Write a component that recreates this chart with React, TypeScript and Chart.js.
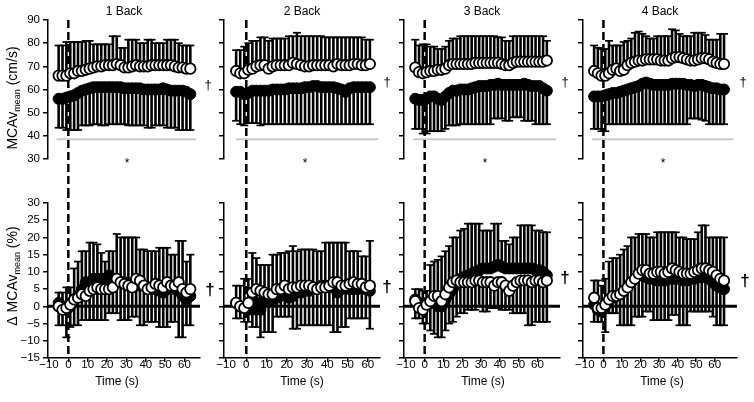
import React, { useEffect, useRef } from 'react';
import { Chart, registerables } from 'chart.js';

Chart.register(...registerables);

const FONT = '"Liberation Sans", Arial, Helvetica, sans-serif';

// ---------- labels / ticks ----------
const PANEL_TITLES = ['1 Back', '2 Back', '3 Back', '4 Back'];
const X_TICKS = [-10, 0, 10, 20, 30, 40, 50, 60];
const TOP_Y_TICKS = [30, 40, 50, 60, 70, 80, 90];
const BOTTOM_Y_TICKS = [-15, -10, -5, 0, 5, 10, 15, 20, 25, 30];
const TOP_Y_RANGE = [30, 90];
const BOTTOM_Y_RANGE = [-15, 30];
const X_RANGES = [[-10.5, 68], [-11, 66], [-11, 72], [-11, 72]];
const SIG_LEVEL = 38.5;
const SIG_SPANS = [[-6, 66], [-5, 65], [-6, 70], [-6, 70]];

// ---------- time (s) ----------
const TIME_1 = [-5, -3, -1, 1, 3, 5, 7, 9, 11, 13, 15, 17, 19, 21, 23, 25, 27, 29, 31, 33, 35, 37, 39, 41, 43, 45, 47, 49, 51, 53, 55, 57, 59, 61, 63];
const TIME_2 = [-5, -3, -1, 1, 3, 5, 7, 9, 11, 13, 15, 17, 19, 21, 23, 25, 27, 29, 31, 33, 35, 37, 39, 41, 43, 45, 47, 49, 51, 53, 55, 57, 59, 61];
const TIME_3 = [-5, -3, -1, 1, 3, 5, 7, 9, 11, 13, 15, 17, 19, 21, 23, 25, 27, 29, 31, 33, 35, 37, 39, 41, 43, 45, 47, 49, 51, 53, 55, 57, 59, 61, 63, 65];
const TIME_4 = [-5, -3, -1, 1, 3, 5, 7, 9, 11, 13, 15, 17, 19, 21, 23, 25, 27, 29, 31, 33, 35, 37, 39, 41, 43, 45, 47, 49, 51, 53, 55, 57, 59, 61, 63, 65];

// ---------- 1 Back ----------
const T1_OPEN_MEAN = [66, 66, 66, 67, 67, 68, 68, 68.5, 69, 69.5, 70, 70, 70.5, 70.5, 70.5, 71, 70.5, 69.5, 69.5, 70, 70.5, 70, 70, 70, 70.5, 70.5, 70.5, 70.5, 70.5, 70.5, 70, 69.5, 69.5, 69, 69];
const T1_OPEN_SD = [13, 13, 14.5, 13.5, 13.5, 12.5, 12.5, 12.5, 12, 10, 9.5, 9.5, 9, 9, 12.5, 12, 7.5, 8.5, 12, 11.5, 11, 10, 10, 11.5, 11, 9.5, 9.5, 9.5, 11, 11, 11.5, 10.5, 9.5, 10, 10];
const T1_FILLED_MEAN = [56, 56, 56.5, 57, 57.5, 58.5, 59.5, 60, 60.5, 61, 61, 61, 61, 61, 61, 61, 61, 60.5, 60.5, 60.5, 60.5, 60.5, 60, 60, 60, 60, 60, 60.5, 60, 59.5, 59.5, 59.5, 59.5, 59, 58];
const T1_FILLED_SD = [12.5, 12.5, 14, 14.5, 15, 16, 15, 15.5, 16, 16, 16, 16.5, 16.5, 16, 16, 16, 16, 15.5, 16, 16, 16, 16, 15.5, 16.5, 16.5, 15.5, 15.5, 16, 16.5, 16, 16, 17, 17, 16.5, 15.5];
const B1_FILLED_MEAN = [1, 0, -1, 0, 2, 3, 5, 7, 7, 8, 8, 8, 8, 9, 8, 7, 7, 7, 6.5, 6, 6, 6, 6, 5.5, 5, 5, 4.5, 4, 5, 5.5, 5, 4.5, 3, 2, 3];
const B1_FILLED_SD = [3, 4, 6.5, 5.5, 9, 10, 11, 9, 11.5, 10.5, 10, 7.5, 5, 7, 8, 14, 13, 13, 13.5, 14, 14, 10.5, 10.5, 10.5, 11, 11, 12.5, 13, 12, 9.5, 10, 14.5, 16, 11, 12];
const B1_OPEN_MEAN = [0, -1, -0.5, 0.5, 2, 2.5, 3.5, 3, 4.5, 5, 5.5, 5, 5, 5, 5.5, 8, 7, 6.5, 6, 5.5, 8, 7.5, 6, 5, 5.5, 6.5, 6, 5.5, 7, 6, 6, 7, 5, 4, 5];
const B1_OPEN_SD = [5.5, 4.5, 8.5, 6.5, 7.5, 8, 7.5, 7, 8.5, 9, 9.5, 9, 9, 7, 7.5, 10, 11, 10.5, 10, 8.5, 11, 13, 11.5, 9.5, 10, 11, 12, 11.5, 13, 10.5, 10.5, 16, 14, 9.5, 10.5];

// ---------- 2 Back ----------
const T2_OPEN_MEAN = [68, 67, 67, 68.5, 69, 70, 70.5, 70.5, 69, 70, 70.5, 70.5, 70.5, 70.5, 71.5, 71, 70.5, 70, 70, 70.5, 70.5, 70.5, 70.5, 70.5, 70, 71, 70.5, 70.5, 70.5, 71, 71, 70.5, 70.5, 71];
const T2_OPEN_SD = [9, 10, 11.5, 11.5, 12, 11, 12, 12, 12, 12, 11.5, 11.5, 11.5, 12.5, 11.5, 13.5, 12.5, 13, 13, 12.5, 12.5, 12.5, 12, 12, 12.5, 11.5, 12, 12, 12, 11.5, 11.5, 12, 11, 10.5];
const T2_FILLED_MEAN = [59, 59, 58, 58.5, 59.5, 59.5, 59.5, 59.5, 59.5, 60, 60, 60, 60, 60.5, 60.5, 60.5, 60.5, 61, 61, 61.5, 61.5, 61, 61, 61, 61, 60.5, 60, 59, 60.5, 61, 61, 61, 61, 61];
const T2_FILLED_SD = [12.5, 14, 13.5, 13, 14, 14, 15, 14.5, 14.5, 15, 15, 15, 15, 15.5, 15.5, 15.5, 15.5, 16, 16, 16.5, 16.5, 16, 16, 16, 16, 15.5, 15, 14, 15.5, 16, 16, 16, 16, 16];
const B2_FILLED_MEAN = [1, 0, -0.5, 0, -1, 1, -1, 2, 3, 2, 2.5, 3, 3.5, 2.5, 3, 4, 4, 4.5, 4.5, 5, 5.5, 6, 6, 5.5, 6, 4, 5, 5.5, 5, 5, 5, 5.5, 5, 4.5];
const B2_FILLED_SD = [5, 6, 8.5, 8, 16.5, 13, 13, 10, 9, 13, 12.5, 12.5, 12, 13.5, 14.5, 12, 12.5, 12, 12, 11.5, 10.5, 10, 12.5, 13, 12.5, 14.5, 13.5, 13, 11, 11, 11, 9, 9.5, 14.5];
const B2_OPEN_MEAN = [1, 0, -0.5, 1, 4, 5, 4.5, 4, 3.5, 3.5, 5, 5, 6, 5, 5.5, 5.5, 6, 6, 6, 5.5, 5, 5.5, 5.5, 6, 7, 7, 6, 6, 6.5, 7, 6.5, 6.5, 5.5, 6];
const B2_OPEN_SD = [4.5, 3.5, 4, 5.5, 10, 11, 13.5, 11.5, 11, 11, 8, 8, 9, 8, 12, 12, 11.5, 11.5, 11.5, 11, 10.5, 11, 11, 11.5, 14.5, 14.5, 12, 12, 10, 10.5, 10, 10, 9, 12.5];

// ---------- 3 Back ----------
const T3_OPEN_MEAN = [69.5, 67.5, 67, 67.5, 68, 68, 68.5, 68.5, 69, 70.5, 71, 71, 71, 71, 71, 71, 71.5, 71.5, 71.5, 71.5, 71.5, 71.5, 71.5, 71, 70.5, 70.5, 71.5, 72, 72, 72, 72, 72, 72, 72, 72, 72.5];
const T3_OPEN_SD = [12, 11.5, 12.5, 12, 10.5, 10.5, 9, 9, 9.5, 10.5, 11, 11, 12, 12, 12, 12, 11.5, 11.5, 11.5, 11.5, 11.5, 11.5, 11, 11.5, 10.5, 10.5, 11.5, 11, 11, 11, 11, 11, 11, 11, 11, 8.5];
const T3_FILLED_MEAN = [56, 55.5, 55.5, 56, 57, 57, 56, 55.5, 57, 58.5, 59.5, 59.5, 60, 60, 60, 60.5, 61, 61.5, 61.5, 61.5, 62, 62, 62.5, 62, 62, 62, 62, 62, 62, 62.5, 62, 61.5, 61.5, 61.5, 60.5, 59.5];
const T3_FILLED_SD = [13, 12.5, 14.5, 15, 15, 15, 14, 13.5, 14, 14, 15, 15, 15, 15, 15, 15.5, 16, 16.5, 16.5, 16.5, 17, 14.5, 15, 14.5, 15.5, 15.5, 14, 14, 14, 16, 15.5, 15, 16.5, 16.5, 15.5, 14.5];
const B3_FILLED_MEAN = [2, 1, 0, 1, 1, 1, 0, 0, 2, 3.5, 5, 6.5, 8, 8.5, 9, 9.5, 10, 10.5, 11, 11, 11, 11.5, 12, 11.5, 11, 11, 11, 11, 11, 11, 11, 11, 10.5, 10.5, 10, 9];
const B3_FILLED_SD = [3, 4, 4.5, 3.5, 11, 12, 13.5, 14.5, 14, 14, 15, 13.5, 14, 14, 15, 14.5, 14, 13.5, 11, 11, 11, 12.5, 12, 7.5, 8, 7, 9, 9, 12.5, 12.5, 12.5, 12.5, 11.5, 11.5, 11.5, 12.5];
const B3_OPEN_MEAN = [1.5, -0.5, -1, 0.5, 1.5, 3, 3, 1.5, 3.5, 5.5, 7, 7.5, 7, 7, 7, 7, 7.5, 7.5, 7, 7, 7, 6, 7, 7, 6, 4.5, 6, 7, 7.5, 7.5, 7.5, 7, 7.5, 7.5, 7, 7.5];
const B3_OPEN_SD = [5, 3, 4, 5.5, 8.5, 11, 12, 10.5, 10.5, 10.5, 11.5, 10.5, 9, 9, 8, 8, 8.5, 7.5, 8.5, 8.5, 7.5, 6.5, 7.5, 8, 7, 5.5, 8, 9, 9.5, 9.5, 13, 12.5, 12, 12, 11.5, 12];

// ---------- 4 Back ----------
const T4_OPEN_MEAN = [68, 67, 66, 66, 67, 68.5, 69, 68, 68.5, 70.5, 71.5, 72, 72.5, 72.5, 73, 73, 73, 73, 72.5, 72.5, 72.5, 73.5, 74, 74, 73.5, 73, 72.5, 72.5, 73, 73.5, 73.5, 73, 72, 71.5, 71, 71];
const T4_OPEN_SD = [11, 11, 11.5, 11.5, 14, 10.5, 10, 11, 12, 10.5, 10.5, 12.5, 12.5, 11.5, 10, 9, 9, 10, 10.5, 10.5, 10.5, 12.5, 11.5, 10, 9.5, 10, 10.5, 12, 11.5, 11, 10, 8.5, 9.5, 10, 13, 13];
const T4_FILLED_MEAN = [57, 57, 57, 57.5, 58, 58.5, 58.5, 59, 59.5, 60, 60.5, 61, 61.5, 62.5, 63, 62.5, 62, 62, 62, 62, 62, 62.5, 62.5, 62.5, 62.5, 62, 62, 61.5, 62, 62, 61.5, 61, 60.5, 60.5, 60, 60];
const T4_FILLED_SD = [14, 14, 15, 15.5, 13, 13.5, 13.5, 14, 14.5, 15, 15.5, 16, 16.5, 17.5, 18, 17.5, 17, 17, 17, 17, 17, 17.5, 17.5, 17.5, 17.5, 17, 14.5, 14, 14.5, 15, 15, 16, 15.5, 15.5, 15, 15];
const B4_FILLED_MEAN = [0.5, -1, -1.5, 0, 1.5, 2.5, 3, 3.5, 4.5, 5.5, 7, 8, 9, 9.5, 8.5, 8, 8, 7.5, 7.5, 7.5, 8, 8, 8, 8, 7.5, 7.5, 8, 8, 8.5, 8.5, 8.5, 8, 7, 6, 5.5, 5];
const B4_FILLED_SD = [7, 8.5, 7.5, 8, 11.5, 11.5, 11, 11.5, 12, 12, 13, 12, 12, 11.5, 12.5, 12, 12, 14, 14, 14, 13.5, 13.5, 13.5, 12, 12.5, 12, 11.5, 11.5, 13, 15, 15, 12, 13, 14, 14.5, 15];
const B4_OPEN_MEAN = [2.5, -0.5, -0.5, 0.5, 2, 3, 3, 3.5, 4.5, 5.5, 7, 8, 9.5, 10.5, 10.5, 9.5, 9.5, 10, 10, 9.5, 10, 11, 10.5, 10, 9.5, 9.5, 9.5, 10, 10.5, 11, 11, 10.5, 10, 9, 8, 7.5];
const B4_OPEN_SD = [7, 4, 4, 8, 4, 5, 5, 9, 10, 11, 12.5, 11, 12.5, 13.5, 12, 11, 13.5, 14, 14, 13.5, 14, 13.5, 13, 15.5, 15, 15, 11, 11.5, 12, 12.5, 12.5, 12, 13, 14.5, 13.5, 13];

type Series = { mean: number[]; sd: number[] };
type Part = { filled: Series; open: Series };
type PanelData = { time: number[]; top: Part; bottom: Part };

const PANELS: PanelData[] = [
  {
    time: TIME_1,
    top: { filled: { mean: T1_FILLED_MEAN, sd: T1_FILLED_SD }, open: { mean: T1_OPEN_MEAN, sd: T1_OPEN_SD } },
    bottom: { filled: { mean: B1_FILLED_MEAN, sd: B1_FILLED_SD }, open: { mean: B1_OPEN_MEAN, sd: B1_OPEN_SD } },
  },
  {
    time: TIME_2,
    top: { filled: { mean: T2_FILLED_MEAN, sd: T2_FILLED_SD }, open: { mean: T2_OPEN_MEAN, sd: T2_OPEN_SD } },
    bottom: { filled: { mean: B2_FILLED_MEAN, sd: B2_FILLED_SD }, open: { mean: B2_OPEN_MEAN, sd: B2_OPEN_SD } },
  },
  {
    time: TIME_3,
    top: { filled: { mean: T3_FILLED_MEAN, sd: T3_FILLED_SD }, open: { mean: T3_OPEN_MEAN, sd: T3_OPEN_SD } },
    bottom: { filled: { mean: B3_FILLED_MEAN, sd: B3_FILLED_SD }, open: { mean: B3_OPEN_MEAN, sd: B3_OPEN_SD } },
  },
  {
    time: TIME_4,
    top: { filled: { mean: T4_FILLED_MEAN, sd: T4_FILLED_SD }, open: { mean: T4_OPEN_MEAN, sd: T4_OPEN_SD } },
    bottom: { filled: { mean: B4_FILLED_MEAN, sd: B4_FILLED_SD }, open: { mean: B4_OPEN_MEAN, sd: B4_OPEN_SD } },
  },
];

// ---------- layout (pixels) ----------
const COLS = [
  { left: 0, width: 215, plotLeft: 48, plotRight: 200 },
  { left: 215, width: 180, plotLeft: 224, plotRight: 380 },
  { left: 395, width: 180, plotLeft: 404, plotRight: 560 },
  { left: 575, width: 179, plotLeft: 583, plotRight: 737 },
];
const ROWS = {
  top: { top: 0, height: 190, padTop: 20, padBottom: 16 },
  bottom: { top: 190, height: 212, padTop: 13, padBottom: 0 },
};
const TOP_DAGGERS = [[208, 85], [172, 82], [170, 82], [168, 82]];
const BOTTOM_DAGGERS = [[210, 100], [172, 97], [170, 88], [170, 91]];
const TIME_LABEL_X = [117, 87, 88, 87];

const fmt = (v: number) => (v < 0 ? '\u2212' + Math.abs(v) : String(v));

function drawErrorBars(ctx: CanvasRenderingContext2D, xs: any, ys: any, time: number[], s: Series, dir: number) {
  ctx.strokeStyle = '#000';
  for (let i = 0; i < time.length; i++) {
    const px = xs.getPixelForValue(time[i]);
    const p0 = ys.getPixelForValue(s.mean[i]);
    const p1 = ys.getPixelForValue(s.mean[i] + dir * s.sd[i]);
    ctx.lineWidth = 2.6;
    ctx.beginPath();
    ctx.moveTo(px, p0);
    ctx.lineTo(px, p1);
    ctx.stroke();
    ctx.lineWidth = 1.7;
    ctx.beginPath();
    ctx.moveTo(px - 4, p1);
    ctx.lineTo(px + 4, p1);
    ctx.stroke();
  }
}

function drawVerticalTitle(ctx: CanvasRenderingContext2D, parts: [string, number, number][], x: number, cy: number) {
  ctx.save();
  ctx.translate(x, cy);
  ctx.rotate(-Math.PI / 2);
  ctx.fillStyle = '#000';
  ctx.textBaseline = 'alphabetic';
  ctx.textAlign = 'left';
  const widths = parts.map(([t, size]) => {
    ctx.font = `${size}px ${FONT}`;
    return ctx.measureText(t).width;
  });
  const total = widths.reduce((a, b) => a + b, 0);
  let cur = -total / 2;
  parts.forEach(([t, size, dy], i) => {
    ctx.font = `${size}px ${FONT}`;
    ctx.fillText(t, cur, dy);
    cur += widths[i];
  });
  ctx.restore();
}

function decorPlugin(row: 'top' | 'bottom', col: number) {
  const isTop = row === 'top';
  return {
    id: 'decor',
    beforeDatasetsDraw(chart: any) {
      const { ctx, chartArea: a, scales } = chart;
      const xs = scales.x;
      const ys = scales.y;
      const p = PANELS[col];
      const part = isTop ? p.top : p.bottom;
      ctx.save();
      if (isTop) {
        const yy = ys.getPixelForValue(SIG_LEVEL);
        ctx.strokeStyle = '#c8c8c8';
        ctx.lineWidth = 2;
        ctx.beginPath();
        ctx.moveTo(xs.getPixelForValue(SIG_SPANS[col][0]), yy);
        ctx.lineTo(xs.getPixelForValue(SIG_SPANS[col][1]), yy);
        ctx.stroke();
        ctx.fillStyle = '#000';
        ctx.font = `12px ${FONT}`;
        ctx.textAlign = 'center';
        ctx.textBaseline = 'alphabetic';
        ctx.fillText('*', (a.left + a.right) / 2 + 3, 167);
      } else {
        const y0 = ys.getPixelForValue(0);
        ctx.strokeStyle = '#000';
        ctx.lineWidth = 3;
        ctx.beginPath();
        ctx.moveTo(a.left, y0);
        ctx.lineTo(a.right, y0);
        ctx.stroke();
      }
      drawErrorBars(ctx, xs, ys, p.time, part.filled, isTop ? -1 : 1);
      drawErrorBars(ctx, xs, ys, p.time, part.open, isTop ? 1 : -1);
      // stimulus onset dashed line
      const x0 = xs.getPixelForValue(0);
      ctx.strokeStyle = '#000';
      ctx.lineWidth = 2.5;
      ctx.setLineDash([8, 4]);
      ctx.beginPath();
      if (isTop) {
        ctx.moveTo(x0, a.top);
        ctx.lineTo(x0, chart.height);
      } else {
        ctx.moveTo(x0, 0);
        ctx.lineTo(x0, a.bottom);
      }
      ctx.stroke();
      ctx.setLineDash([]);
      ctx.restore();
    },
    afterDraw(chart: any) {
      const { ctx, chartArea: a } = chart;
      ctx.save();
      ctx.fillStyle = '#000';
      ctx.textAlign = 'center';
      ctx.textBaseline = 'middle';
      if (isTop) {
        ctx.font = `12px ${FONT}`;
        ctx.fillText(PANEL_TITLES[col], (a.left + a.right) / 2, 12);
        ctx.font = `13px ${FONT}`;
        ctx.fillText('\u2020', TOP_DAGGERS[col][0], TOP_DAGGERS[col][1]);
        if (col === 0) {
          drawVerticalTitle(ctx, [['MCAv', 14, 0], ['mean', 9, 3], [' (cm/s)', 14, 0]], 17, 98);
        }
      } else {
        ctx.font = `bold 17px ${FONT}`;
        ctx.fillText('\u2020', BOTTOM_DAGGERS[col][0], BOTTOM_DAGGERS[col][1]);
        ctx.font = `12px ${FONT}`;
        ctx.fillText('Time (s)', TIME_LABEL_X[col], 192);
        if (col === 0) {
          drawVerticalTitle(ctx, [['\u0394 MCAv', 14, 0], ['mean', 9, 3], [' (%)', 14, 0]], 17, 86);
        }
      }
      ctx.restore();
    },
  };
}

function buildConfig(row: 'top' | 'bottom', col: number): any {
  const c = COLS[col];
  const r = ROWS[row];
  const p = PANELS[col];
  const isTop = row === 'top';
  const part = isTop ? p.top : p.bottom;
  const yTicks = isTop ? TOP_Y_TICKS : BOTTOM_Y_TICKS;
  const yRange = isTop ? TOP_Y_RANGE : BOTTOM_Y_RANGE;
  const toPoints = (s: Series) => p.time.map((t, i) => ({ x: t, y: s.mean[i] }));
  const tickFont = { family: FONT, size: 11.5 };
  return {
    type: 'scatter',
    data: {
      datasets: [
        {
          label: 'open',
          data: toPoints(part.open),
          order: 0,
          pointRadius: 5.2,
          pointBackgroundColor: '#ffffff',
          pointBorderColor: '#000000',
          pointBorderWidth: 1.8,
          showLine: false,
        },
        {
          label: 'filled',
          data: toPoints(part.filled),
          order: 1,
          pointRadius: 5.5,
          pointBackgroundColor: '#000000',
          pointBorderColor: '#000000',
          pointBorderWidth: 1,
          showLine: false,
        },
      ],
    },
    options: {
      responsive: false,
      animation: false,
      events: [],
      layout: {
        padding: { left: 0, right: c.left + c.width - c.plotRight, top: r.padTop, bottom: r.padBottom },
      },
      plugins: { legend: { display: false }, tooltip: { enabled: false } },
      scales: {
        x: {
          type: 'linear',
          display: !isTop,
          min: X_RANGES[col][0],
          max: X_RANGES[col][1],
          afterBuildTicks: (s: any) => {
            s.ticks = X_TICKS.map((value) => ({ value }));
          },
          afterFit: (s: any) => {
            s.height = r.height - r.padTop - 155;
            s.paddingLeft = 0;
            s.paddingRight = 0;
          },
          ticks: {
            autoSkip: false,
            maxRotation: 0,
            padding: -4,
            color: '#000',
            font: tickFont,
            callback: (v: number) => fmt(v),
          },
          grid: { drawOnChartArea: false, drawTicks: true, tickLength: 4, color: '#000', lineWidth: 1.5 },
          border: { display: true, color: '#000', width: 1.5 },
        },
        y: {
          type: 'linear',
          position: 'left',
          min: yRange[0],
          max: yRange[1],
          afterBuildTicks: (s: any) => {
            s.ticks = yTicks.map((value) => ({ value }));
          },
          afterFit: (s: any) => {
            s.width = c.plotLeft - c.left;
            s.paddingTop = 0;
            s.paddingBottom = 0;
          },
          ticks: {
            display: col === 0,
            padding: 3,
            color: '#000',
            font: tickFont,
            callback: (v: number) => fmt(v),
          },
          grid: { drawOnChartArea: false, drawTicks: true, tickLength: 5, color: '#000', lineWidth: 1.5 },
          border: { display: true, color: '#000', width: 1.5 },
        },
      },
    },
    plugins: [decorPlugin(row, col)],
  };
}

function PanelCanvas({ row, col }: { row: 'top' | 'bottom'; col: number }) {
  const ref = useRef<HTMLCanvasElement>(null);
  useEffect(() => {
    const chart = new Chart(ref.current as HTMLCanvasElement, buildConfig(row, col));
    return () => chart.destroy();
  }, [row, col]);
  const c = COLS[col];
  const r = ROWS[row];
  return (
    <canvas
      ref={ref}
      width={c.width}
      height={r.height}
      style={{ position: 'absolute', left: c.left, top: r.top, width: c.width, height: r.height }}
    />
  );
}

export default function App() {
  return (
    <div style={{ position: 'absolute', left: 0, top: 0, width: 754, height: 402, background: '#fff', overflow: 'hidden' }}>
      {[0, 1, 2, 3].map((c) => (
        <React.Fragment key={c}>
          <PanelCanvas row="top" col={c} />
          <PanelCanvas row="bottom" col={c} />
        </React.Fragment>
      ))}
    </div>
  );
}
